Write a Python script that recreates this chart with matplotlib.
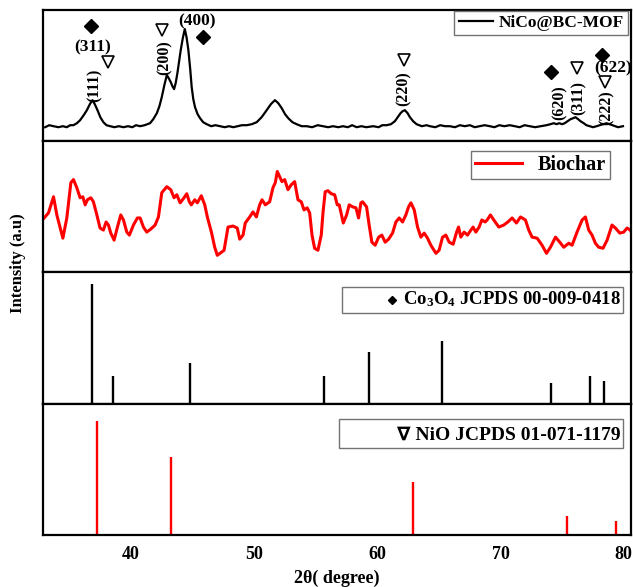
import matplotlib
matplotlib.use("Agg")
import matplotlib.pyplot as plt
from matplotlib.patches import Rectangle

# fonts - Times-like bold everywhere
plt.rcParams['font.family'] = ['Liberation Serif', 'DejaVu Sans']
plt.rcParams['font.weight'] = 'bold'
plt.rcParams['mathtext.fontset'] = 'custom'
plt.rcParams['mathtext.rm'] = 'Liberation Serif:bold'
plt.rcParams['mathtext.it'] = 'Liberation Serif:bold'
plt.rcParams['mathtext.bf'] = 'Liberation Serif:bold'

# NiCo@BC-MOF pattern (2theta, intensity a.u.)
mof_x = [33.02, 33.35, 33.70, 34.10, 34.45, 34.78, 35.05, 35.32, 35.60, 35.86, 36.15, 36.41,
         36.65, 36.86, 37.05, 37.27, 37.50, 37.75, 38.00, 38.30, 38.65, 39.00, 39.38, 39.75,
         40.10, 40.40, 40.73, 41.10, 41.54, 41.80, 42.09, 42.30, 42.49, 42.70, 42.90, 43.05,
         43.22, 43.35, 43.49, 43.62, 43.76, 43.90, 44.03, 44.20, 44.36, 44.50, 44.65, 44.80,
         44.92, 45.05, 45.19, 45.40, 45.60, 45.85, 46.14, 46.50, 46.85, 47.22, 47.60, 47.95,
         48.30, 48.65, 49.00, 49.39, 49.80, 50.20, 50.60, 51.01, 51.35, 51.68, 51.95, 52.23,
         52.50, 52.76, 53.10, 53.44, 53.85, 54.26, 54.70, 55.15, 55.60, 56.00, 56.40, 56.82,
         57.20, 57.60, 57.95, 58.31, 58.70, 59.10, 59.66, 60.10, 60.40, 60.75, 61.10, 61.42,
         61.65, 61.88, 62.05, 62.23, 62.45, 62.64, 62.90, 63.18, 63.60, 64.00, 64.26, 64.70,
         65.10, 65.50, 65.88, 66.30, 66.70, 67.10, 67.51, 67.90, 68.30, 68.70, 69.13, 69.50,
         69.90, 70.30, 70.75, 71.15, 71.55, 71.95, 72.37, 72.80, 73.25, 73.73, 74.05, 74.32,
         74.55, 74.75, 75.00, 75.21, 75.45, 75.68, 75.90, 76.08, 76.30, 76.49, 76.75, 76.97,
         77.25, 77.51, 77.80, 78.05, 78.35, 78.60, 78.85, 79.08, 79.30, 79.54, 79.94]
mof_y = [14, 16, 15, 14, 15, 14, 16, 16, 18, 21, 26, 31,
         37, 41, 37, 31, 24, 19, 16, 15, 14, 15, 14, 15,
         14, 16, 15, 16, 18, 22, 28, 35, 44, 56, 66, 63,
         59, 55, 52, 58, 68, 80, 91, 103, 112, 104, 91, 72,
         54, 42, 34, 27, 23, 19, 17, 15, 16, 15, 14, 15,
         14, 15, 16, 16, 17, 19, 24, 31, 37, 41, 38, 33,
         27, 23, 19, 17, 15, 15, 14, 16, 15, 14, 15, 14,
         15, 14, 16, 14, 15, 14, 15, 14, 16, 16, 17, 20,
         24, 28, 30, 31, 28, 24, 20, 17, 15, 16, 15, 14,
         16, 15, 15, 14, 16, 15, 16, 14, 15, 16, 15, 14,
         16, 15, 16, 15, 14, 16, 15, 14, 15, 16, 17, 18,
         17, 18, 17, 18, 20, 22, 23, 24, 22, 20, 18, 16,
         15, 14, 15, 16, 17, 18, 17, 16, 15, 14, 15]

# Biochar pattern
bc_x = [32.94, 33.29, 33.70, 33.97, 34.46, 34.78, 35.11, 35.32, 35.59, 35.86, 36.08, 36.27,
        36.45, 36.73, 36.94, 37.22, 37.48, 37.75, 37.97, 38.16, 38.35, 38.62, 38.89, 39.16,
        39.38, 39.65, 39.86, 40.19, 40.51, 40.73, 41.00, 41.27, 41.60, 41.95, 42.22, 42.49,
        42.90, 43.22, 43.49, 43.71, 43.98, 44.30, 44.52, 44.73, 44.89, 45.17, 45.38, 45.70,
        45.98, 46.19, 46.52, 46.79, 47.00, 47.33, 47.55, 47.87, 48.28, 48.62, 48.82, 49.09,
        49.27, 49.63, 49.90, 50.17, 50.44, 50.63, 50.90, 51.25, 51.52, 51.71, 51.87, 52.06,
        52.25, 52.47, 52.74, 53.01, 53.28, 53.55, 53.82, 54.04, 54.30, 54.50, 54.69, 54.90,
        55.17, 55.44, 55.58, 55.76, 55.98, 56.25, 56.53, 56.74, 56.90, 57.23, 57.50, 57.71,
        57.99, 58.26, 58.47, 58.66, 58.80, 59.12, 59.33, 59.55, 59.82, 60.10, 60.36, 60.63,
        60.91, 61.23, 61.50, 61.77, 62.04, 62.31, 62.53, 62.72, 62.99, 63.26, 63.53, 63.80,
        64.07, 64.34, 64.75, 65.01, 65.29, 65.56, 65.83, 66.15, 66.43, 66.59, 66.77, 67.04,
        67.32, 67.59, 67.77, 67.99, 68.26, 68.48, 68.75, 68.91, 69.18, 69.45, 69.86, 70.26,
        70.59, 70.94, 71.29, 71.62, 72.02, 72.29, 72.56, 72.97, 73.37, 73.73, 74.05, 74.46,
        74.81, 75.13, 75.54, 75.81, 76.21, 76.62, 76.89, 77.16, 77.43, 77.70, 77.97, 78.32,
        78.65, 79.05, 79.33, 79.68, 80.00, 80.27, 80.54, 80.73]
bc_y = [54, 59, 75, 57, 34, 54, 89, 92, 84, 74, 75, 67,
        72, 74, 70, 57, 44, 42, 50, 47, 39, 32, 45, 57,
        52, 40, 37, 47, 54, 54, 45, 40, 43, 47, 55, 79,
        85, 82, 74, 77, 69, 74, 78, 70, 67, 72, 69, 76,
        67, 55, 40, 25, 17, 20, 22, 45, 46, 44, 33, 37,
        49, 55, 60, 55, 67, 72, 67, 70, 84, 89, 100, 95,
        90, 92, 82, 87, 90, 72, 70, 62, 64, 59, 37, 24,
        22, 37, 59, 80, 81, 78, 77, 67, 67, 49, 57, 67,
        65, 64, 54, 69, 70, 65, 47, 30, 27, 35, 37, 30,
        33, 39, 50, 54, 50, 57, 65, 69, 62, 45, 35, 39,
        34, 27, 19, 22, 35, 37, 30, 28, 40, 45, 35, 40,
        37, 42, 45, 40, 45, 52, 50, 52, 57, 52, 45, 47,
        50, 54, 49, 55, 52, 42, 35, 34, 27, 19, 25, 35,
        30, 25, 29, 27, 40, 52, 55, 42, 37, 29, 25, 24,
        32, 47, 44, 39, 40, 44, 42, 37]

# reference cards (relative intensity)
co_pos = [36.85, 38.55, 44.80, 55.65, 59.35, 65.23, 74.10, 77.30, 78.40]
co_int = [100, 23, 34, 23, 43, 52, 17, 23, 19]
nio_pos = [37.25, 43.28, 62.88, 75.42, 79.40]
nio_int = [100, 69, 47, 17, 12]

fig = plt.figure(figsize=(6.33, 5.87), dpi=100)
axs = fig.subplots(4, 1, sharex=True, gridspec_kw={'hspace': 0})
fig.subplots_adjust(left=0.068, right=0.997, top=0.983, bottom=0.0886)

for ax in axs:
    ax.set_xlim(32.85, 80.6)
    ax.set_yticks([])
    ax.tick_params(axis='x', length=0, labelsize=13, pad=8)
    for sp in ax.spines.values():
        sp.set_linewidth(1.6)

# panel 1
ax = axs[0]
ax.plot(mof_x, mof_y, color='black', lw=1.6, label='NiCo@BC-MOF')
ax.set_ylim(0, 131)
leg = ax.legend(loc='upper right', bbox_to_anchor=(0.995, 0.995), borderaxespad=0,
                fancybox=False, edgecolor='0.45', framealpha=1, handlelength=2.0,
                handletextpad=0.3, prop={'weight': 'bold', 'size': 12.5}, borderpad=0.25)
leg.get_frame().set_linewidth(1.0)

dia = dict(marker='D', color='black', ms=7, ls='none')
tri = dict(marker='v', mfc='white', mec='black', mew=1.2, ms=9, ls='none')
ax.plot([36.73, 45.87, 74.13, 78.27], [115, 104, 69, 86], **dia)
ax.plot([38.11, 42.49, 62.15, 76.21, 78.46], [79, 111, 81, 73, 59], **tri)
lab = dict(fontweight='bold', ha='center', va='center')
ax.text(36.86, 94, '(311)', fontsize=12.5, **lab)
ax.text(45.33, 120, '(400)', fontsize=12.5, **lab)
ax.text(79.15, 73, '(622)', fontsize=12.5, **lab)
ax.text(37.08, 56, '(111)', rotation=90, fontsize=11.5, **lab)
ax.text(42.70, 83, '(200)', rotation=90, fontsize=11.5, **lab)
ax.text(62.15, 53, '(220)', rotation=90, fontsize=11.5, **lab)
ax.text(74.81, 39, '(620)', rotation=90, fontsize=11.5, **lab)
ax.text(76.30, 43, '(311)', rotation=90, fontsize=11.5, **lab)
ax.text(78.65, 34, '(222)', rotation=90, fontsize=11.5, **lab)

# panel 2
ax = axs[1]
ax.plot(bc_x, bc_y, color='red', lw=2.2, label='Biochar')
ax.set_ylim(0, 130)
leg = ax.legend(loc='upper right', bbox_to_anchor=(0.964, 0.924), borderaxespad=0,
                fancybox=False, edgecolor='0.45', framealpha=1, handlelength=2.3,
                prop={'weight': 'bold', 'size': 14.5}, borderpad=0.2)
leg.get_frame().set_linewidth(1.0)

# panel 3 - Co3O4 card
ax = axs[2]
ax.vlines(co_pos, 0, co_int, color='black', lw=1.7)
ax.set_ylim(0, 109.6)
ax.add_patch(Rectangle((0.508, 0.695), 0.478, 0.198, transform=ax.transAxes,
                       fill=False, edgecolor='0.45', lw=1.0))
ax.plot([0.594], [0.794], marker='D', color='black', ms=4.5, transform=ax.transAxes)
ax.text(0.982, 0.794, 'Co$_3$O$_4$ JCPDS 00-009-0418', transform=ax.transAxes,
        ha='right', va='center', fontsize=13.5, fontweight='bold')

# panel 4 - NiO card
ax = axs[3]
ax.vlines(nio_pos, 0, nio_int, color='red', lw=1.7)
ax.set_ylim(0, 115.4)
ax.add_patch(Rectangle((0.503, 0.664), 0.483, 0.221, transform=ax.transAxes,
                       fill=False, edgecolor='0.45', lw=1.0))
ax.text(0.982, 0.763, '∇ NiO JCPDS 01-071-1179', transform=ax.transAxes,
        ha='right', va='center', fontsize=14, fontweight='bold')
ax.set_xticks([40, 50, 60, 70, 80])
ax.set_xlabel('2θ( degree)', fontsize=13, fontweight='bold', labelpad=5)

fig.text(0.028, 0.552, 'Intensity (a.u)', rotation=90, ha='center', va='center',
         fontsize=12, fontweight='bold')

plt.savefig('out.png', dpi=100)
